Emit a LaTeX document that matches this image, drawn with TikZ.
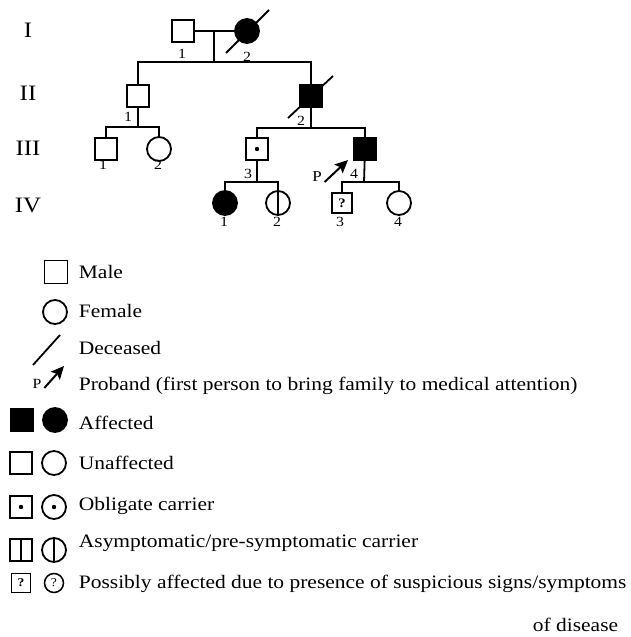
\documentclass[tikz,border=0pt]{standalone}
\usepackage{fontspec}
\setmainfont{Liberation Serif}[FakeStretch=1.13]
\usepackage{tikz}
\usetikzlibrary{shapes.geometric, arrows.meta, positioning}
\tikzstyle{probarrow} = [line width=2pt,-{Stealth[length=13pt,width=12pt,inset=2.5pt]}]

\begin{document}
\begin{tikzpicture}[
			x=1pt, y=-1pt, line width=1.8pt,
			male/.style={rectangle, draw, minimum size=22pt, inner sep=0pt},
			female/.style={circle, draw, minimum size=24pt, inner sep=0pt},
			affected/.style={fill=black},
			carrier/.style={path picture={\fill (path picture bounding box.center) circle (2.2pt);}},
			asym/.style={path picture={\draw (path picture bounding box.north) -- (path picture bounding box.south);}},
			gen/.style={font=\fontsize{22}{24}\selectfont, inner sep=0pt},
			num/.style={font=\fontsize{14}{16}\selectfont, inner sep=0pt},
			legtext/.style={font=\fontsize{19}{22}\selectfont, anchor=west, inner sep=0pt}
			]
			\useasboundingbox (0,0) rectangle (630,637);
			
			% Generation numbers
			\node[gen] (gI) at (28,30) {I};
			\node[gen] (gII) at (28,93) {II};
			\node[gen] (gIII) at (28,148) {III};
			\node[gen] (gIV) at (28,205) {IV};
			
			% Pedigree members
			\node[male] (I1) at (183,31) {};
			\node[female, affected] (I2) at (247,31) {};
			\node[male] (II1) at (138,96) {};
			\node[male, affected] (II2) at (311,96) {};
			\node[male] (III1) at (106,149) {};
			\node[female] (III2) at (159,149) {};
			\node[male, carrier] (III3) at (257,149) {};
			\node[male, affected] (III4) at (365,149) {};
			\node[female, affected] (IV1) at (225,203) {};
			\node[female, asym] (IV2) at (278,203) {};
			\node[male, minimum size=20pt, font=\fontsize{13}{15}\selectfont\bfseries] (IV3) at (342,203) {?};
			\node[female] (IV4) at (399,203) {};
			
			% Individual numbers
			\node[num] (nI1) at (182,54) {1};
			\node[num] (nI2) at (247,57) {2};
			\node[num] (nII1) at (128,117) {1};
			\node[num] (nII2) at (301,121) {2};
			\node[num] (nIII1) at (103,165) {1};
			\node[num] (nIII2) at (158,165) {2};
			\node[num] (nIII3) at (248,174) {3};
			\node[num] (nIII4) at (354,174) {4};
			\node[num] (nIV1) at (224,222) {1};
			\node[num] (nIV2) at (277,222) {2};
			\node[num] (nIV3) at (340,222) {3};
			\node[num] (nIV4) at (398,222) {4};
			
			% Mating and sibship lines
			\coordinate (m1) at (214,31);
			\coordinate (s1) at (214,62);
			\coordinate (s2) at (138,127);
			\coordinate (s3) at (311,128);
			\coordinate (s4) at (257,182);
			\coordinate (s5) at (364,182);
			\draw (I1) -- (I2);
			\draw (m1) -- (s1);
			\draw (II1) |- (s1) -| (II2);
			\draw (II1) -- (s2);
			\draw (III1) |- (s2) -| (III2);
			\draw (II2) -- (s3);
			\draw (III3) |- (s3) -| (III4);
			\draw (III3) -- (s4);
			\draw (IV1) |- (s4) -| (IV2);
			\draw (III4) -- (s5);
			\draw (IV3) |- (s5) -| (IV4);
			
			% Deceased
			\draw ([shift={(-21,22)}]I2.center) -- ([shift={(22,-21)}]I2.center);
			\draw ([shift={(-23,22)}]II2.center) -- ([shift={(22,-20)}]II2.center);
			
			% Proband
			\node[num, font=\fontsize{15}{17}\selectfont] (P) at (317,177) {P};
			\coordinate (ptip) at (348,160);
			\draw[probarrow] (P.east) ++(2,5) -- (ptip);
			
			% Legend
			\node[male, minimum size=23pt] (lmale) at (56,272) {};
			\node[legtext] (tmale) at (78,272) {Male};
			\node[female] (lfemale) at (55,312) {};
			\node[legtext] (tfemale) at (78,311) {Female};
			\draw (33,365) -- (60,335);
			\node[legtext] (tdead) at (78,348) {Deceased};
			\node[num, font=\fontsize{14}{16}\selectfont] (lP) at (37,384) {P};
			\coordinate (ltip) at (64,366);
			\draw[probarrow] (lP.east) ++(2,4) -- (ltip);
			\node[legtext] (tprob) at (78,386) {Proband (first person to bring family to medical attention)};
			\node[male, affected, minimum size=23pt] (laffm) at (22,420) {};
			\node[female, affected] (lafff) at (55,420) {};
			\node[legtext] (taff) at (78,423) {Affected};
			\node[male] (lunm) at (21,463) {};
			\node[female] (lunf) at (54,463) {};
			\node[legtext] (tun) at (78,463) {Unaffected};
			\node[male, carrier] (lobm) at (21,507) {};
			\node[female, carrier] (lobf) at (54,507) {};
			\node[legtext] (tob) at (78,506) {Obligate carrier};
			\node[male, asym] (lasm) at (21,550) {};
			\node[female, asym] (lasf) at (54,550) {};
			\node[legtext] (tas) at (78,543) {Asymptomatic/pre-symptomatic carrier};
			\node[male, minimum size=19pt, font=\fontsize{12}{14}\selectfont\bfseries] (lqm) at (21,583) {?};
			\node[female, minimum size=19pt, line width=1.5pt, font=\fontsize{12}{14}\selectfont] (lqf) at (54,583) {?};
			\node[legtext] (tq) at (78,584) {Possibly affected due to presence of suspicious signs/symptoms};
			\node[legtext] (tq2) at (532,625) {of disease};
			
		\end{tikzpicture}
\end{document}
